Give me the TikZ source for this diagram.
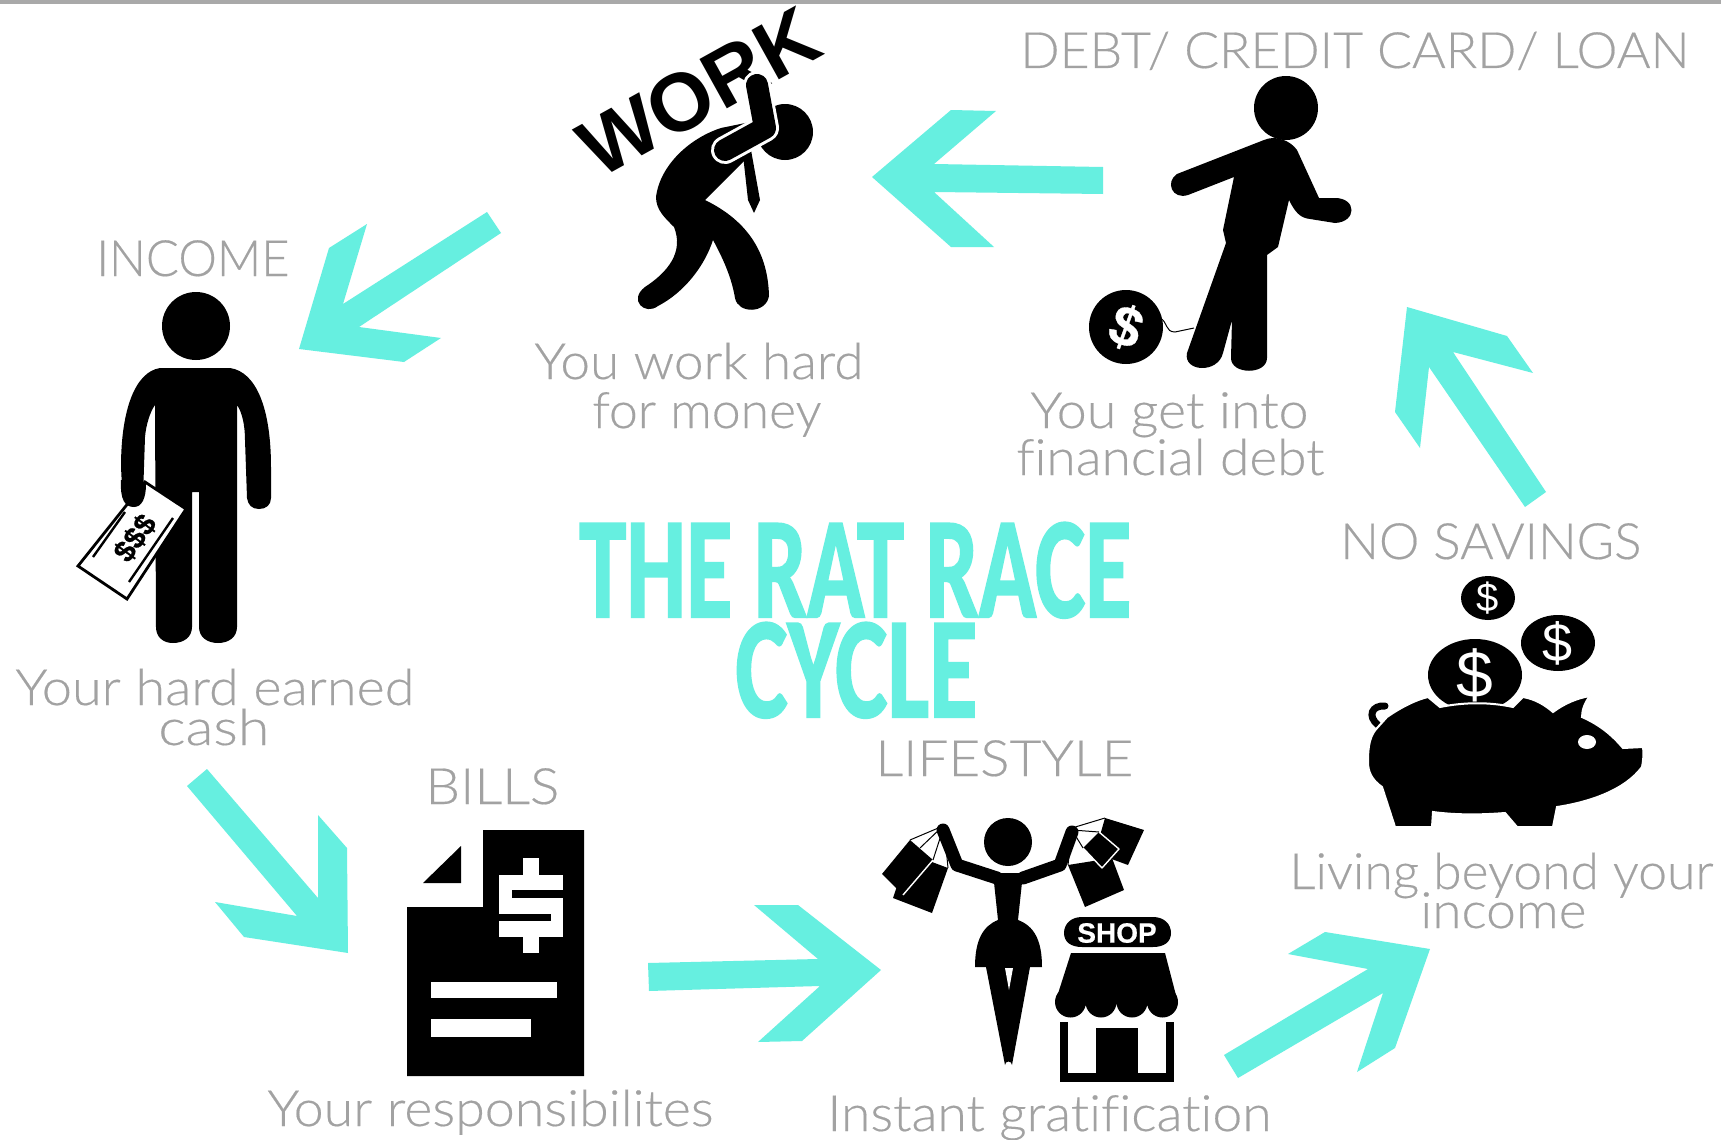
\documentclass[tikz,border=0pt]{standalone}
\usepackage{fontspec}
\usepackage{graphicx}
\setmainfont{Liberation Sans}
\newfontfamily\lightf[FakeBold=0.35,Ligatures=NoCommon]{Lato Light}
\newfontfamily\titlef[FakeBold=1.6]{Carlito}
\newfontfamily\boldf[FakeBold=0.6]{Liberation Sans}
\newlength\pxu \pxu=0.5pt
\definecolor{teal1}{HTML}{66EFE0}
\definecolor{gtext}{HTML}{A2A2A2}
\definecolor{topbar}{HTML}{A9A9A9}
\newcommand{\lab}[2]{\resizebox{#1\pxu}{\height}{\fontsize{25pt}{25pt}\selectfont\lightf #2}}
\newcommand{\ttl}[2]{\resizebox{#1\pxu}{\height}{\fontsize{72pt}{72pt}\selectfont\titlef\bfseries #2}}
\tikzset{
  grey label/.style={anchor=base west,inner sep=0pt,text=gtext},
  title label/.style={anchor=base west,inner sep=0pt,text=teal1},
  block arrow/.style={fill=teal1,draw=none},
  ink/.style={fill=black,draw=none},
  paper/.style={fill=white,draw=none},
  bagedge/.style={draw=white,line width=0.7pt,line join=round},
  handle/.style={draw=black,line width=0.5pt},
}
\begin{document}
\begin{tikzpicture}[x=0.5pt,y=-0.5pt]
\useasboundingbox (0,0) rectangle (1721,1140);
\fill[white] (0,0) rectangle (1721,1140);
\fill[topbar] (0,0) rectangle (1721,4);

% block arrows
\fill[block arrow] (872,177)--(951,110)--(996,111)--(934,164)--(1103,167)--(1103,194)--(934,192)--(994,247)--(951,247)--cycle;
\fill[block arrow] (487,212)--(501,233)--(359,327)--(441,338)--(404,362)--(299,349)--(329,248)--(367,224)--(343,304)--cycle;
\fill[block arrow] (207,769)--(187,786)--(297,916)--(215,902)--(244,937)--(348,953)--(347,848)--(318,815)--(318,898)--cycle;
\fill[block arrow] (648,963)--(818,959)--(754,905)--(798,905)--(881,970)--(802,1041)--(758,1042)--(820,986)--(649,991)--cycle;
\fill[block arrow] (1224,1055)--(1368,969)--(1288,954)--(1325,932)--(1430,949)--(1395,1048)--(1357,1072)--(1383,993)--(1238,1078)--cycle;
\fill[block arrow] (1525,507)--(1546,492)--(1453,352)--(1533,373)--(1507,336)--(1407,307)--(1395,412)--(1420,448)--(1429,367)--cycle;

% title
\node[title label] (t1) at (579,617) {\ttl{552}{THE RAT RACE}};
\node[title label] (t2) at (735,717) {\ttl{242}{CYCLE}};

% labels
\node[grey label] (l1) at (1020,68) {\lab{669}{DEBT/ CREDIT CARD/ LOAN}};
\node[grey label] (l2) at (96,276) {\lab{193}{INCOME}};
\node[grey label] (l3) at (1340,559) {\lab{301}{NO SAVINGS}};
\node[grey label] (l4) at (875,776) {\lab{258}{LIFESTYLE}};
\node[grey label] (l5) at (425,804) {\lab{134}{BILLS}};
\node[grey label] (l6) at (534,379) {\lab{329}{You work hard}};
\node[grey label] (l7) at (592,428) {\lab{229}{for money}};
\node[grey label] (l8) at (1030,428) {\lab{278}{You get into}};
\node[grey label] (l9) at (1016,475) {\lab{308}{financial debt}};
\node[grey label] (l10) at (15,705) {\lab{399}{Your hard earned}};
\node[grey label] (l11) at (158,745) {\lab{111}{cash}};
\node[grey label] (l12) at (1289,889) {\lab{424}{Living beyond your}};
\node[grey label] (l13) at (1420,928) {\lab{166}{income}};
\node[grey label] (l14) at (267,1126) {\lab{446}{Your responsibilites}};
\node[grey label] (l15) at (827,1131) {\lab{444}{Instant gratification}};

% income man
\fill[ink] (196,326) circle[radius=34];
\fill[ink] (160,368) .. controls (135,372) and (121,410) .. (121,467) -- (122,487) -- (133,507) -- (143,497) -- (145,437) .. controls (146,425) and (150,412) .. (155,405) -- (156,627) .. controls (156,637) and (163,643) .. (173,643) .. controls (184,643) and (192,637) .. (192,627) -- (192,492) -- (199,492) -- (199,627) .. controls (199,637) and (207,643) .. (218,643) .. controls (229,643) and (237,637) .. (237,627) -- (237,405) .. controls (242,412) and (245,425) .. (245,440) -- (247,498) .. controls (248,505) and (252,509) .. (259,509) .. controls (266,509) and (271,505) .. (271,498) -- (271,467) .. controls (271,410) and (257,372) .. (230,368) -- cycle;
\draw[fill=white,draw=black,line width=1.4pt] (145,482)--(186,509)--(127,599)--(78,566)--cycle;
\fill[ink] (121,480) .. controls (120,500) and (125,507) .. (134,507) .. controls (142,507) and (146,498) .. (146,484) -- cycle;
\draw[black,line width=1.2pt] (93,557)--(125,512) (129,582)--(173,518);
\node[inner sep=0pt,rotate=54] (bill) at (135,538) {\fontsize{15pt}{15pt}\selectfont\boldf\bfseries\$\$\$};

% work man
\node[inner sep=0pt,rotate=29] (work) at (699,92) {\fontsize{41pt}{41pt}\selectfont\bfseries WORK};
\fill[ink] (785,132) circle[radius=28];
\fill[ink] (721,128) .. controls (690,138) and (660,165) .. (656,197) .. controls (656,210) and (665,218) .. (674,227) .. controls (684,252) and (668,272) .. (645,287) .. controls (628,300) and (645,316) .. (658,306) .. controls (685,292) and (705,265) .. (713,240) .. controls (725,262) and (732,280) .. (735,298) .. controls (738,314) and (766,314) .. (769,296) .. controls (768,255) and (750,222) .. (705,200) -- (748,157) -- (760,120) -- cycle;
\fill[ink] (743,155)--(748,200)--(754,213)--(760,200)--(751,150)--cycle;
\draw[white,line width=14pt,line join=round,line cap=round] (757,85)--(765,128)--(725,150);
\draw[black,line width=11pt,line join=round,line cap=round] (757,85)--(765,128)--(725,150);

% debt man
\fill[ink] (1286,108) circle[radius=32];
\fill[ink] (1264,140) -- (1177,174) .. controls (1165,182) and (1172,200) .. (1188,195) -- (1234,177) -- (1223,230) -- (1226,243) -- (1187,353) .. controls (1183,372) and (1218,374) .. (1223,353) -- (1232,320) -- (1231,358) .. controls (1231,375) and (1267,375) .. (1267,358) -- (1267,255) -- (1278,247) -- (1289,200) .. controls (1295,212) and (1300,218) .. (1310,219) -- (1335,223) .. controls (1357,222) and (1357,198) .. (1335,198) -- (1319,198) -- (1297,150) .. controls (1290,140) and (1275,135) .. (1264,140) -- cycle;
\fill[ink] (1126,327) circle[radius=37];
\draw[black,line width=0.5pt] (1160,318) .. controls (1168,322) and (1165,332) .. (1175,332) -- (1194,328);
\node[inner sep=0pt,text=white,rotate=-20] (ball) at (1126,327) {\fontsize{28pt}{28pt}\selectfont\boldf\bfseries\$};

% bills
\fill[ink] (407,907)--(483,907)--(483,830)--(584,830)--(584,1076)--(407,1076)--cycle;
\fill[ink] (461,846)--(461,883)--(423,883)--cycle;
\fill[paper] (431,982) rectangle (557,998);
\fill[paper] (431,1019) rectangle (531,1037);
\fill[paper] (523,858) rectangle (539,953);
\fill[paper] (499,875) rectangle (563,937);
\fill[ink] (512,890) rectangle (563,898);
\fill[ink] (499,914) rectangle (551,921);

% woman
\fill[ink] (1008,842) circle[radius=24];
\fill[ink] (893,898)--(932,913)--(948,868)--(908,853)--cycle;
\fill[ink] (882,874)--(910,840)--(933,860)--(903,895)--cycle;
\draw[bagedge] (933,860)--(903,895);
\draw[handle] (910,840)--(943,826) (920,848)--(943,826) (933,860)--(944,826) (948,868)--(944,826);
\draw[black,line width=6.5pt,line cap=round,line join=round] (943,830)--(957,865)--(997,878);
\draw[black,line width=6.5pt,line cap=round,line join=round] (1072,832)--(1060,865)--(1023,878);
\fill[ink] (993,873)--(1023,873)--(1018,920)--(998,920)--cycle;
\fill[ink] (998,920) .. controls (983,926) and (975,940) .. (975,967) -- (1042,967) .. controls (1042,940) and (1034,926) .. (1018,920) -- cycle;
\fill[ink] (986,967)--(1005,1065) arc[start angle=180,end angle=360,radius=3.5] --(1030,967)--cycle;
\fill[paper] (1005,968)--(1013,968)--(1009,990)--cycle;
\fill[ink] (1105,818)--(1144,830)--(1128,865)--(1095,853)--cycle;
\fill[ink] (1068,865)--(1112,858)--(1124,890)--(1085,907)--cycle;
\fill[ink] (1099,832)--(1119,849)--(1102,868)--(1083,848)--cycle;
\draw[bagedge] (1099,832)--(1119,849)--(1102,868)--(1083,848);
\draw[handle] (1072,828)--(1105,818) (1072,830)--(1099,832) (1072,830)--(1083,848) (1072,830)--(1068,865);

% shop
\fill[ink] (1082,917) -- (1153,917) .. controls (1164,917) and (1171,924) .. (1171,933) .. controls (1171,942) and (1164,947) .. (1153,947) -- (1082,947) .. controls (1071,947) and (1064,942) .. (1064,933) .. controls (1064,924) and (1071,917) .. (1082,917) -- cycle;
\node[inner sep=0pt,text=white] (shop) at (1117,933) {\fontsize{14pt}{14pt}\selectfont\boldf\bfseries SHOP};
\fill[ink] (1071,953)--(1165,953)--(1178,1003)--(1055,1003)--cycle;
\fill[ink] (1070.5,1002) circle[radius=15.5] (1101,1002) circle[radius=15.5] (1132,1002) circle[radius=15.5] (1162.5,1002) circle[radius=15.5];
\fill[ink] (1060,1022) rectangle (1068,1082);
\fill[ink] (1166,1022) rectangle (1174,1082);
\fill[ink] (1060,1073) rectangle (1174,1082);
\fill[ink] (1096,1028) rectangle (1138,1075);

% piggy bank
\fill[ink] (1488,598) ellipse[x radius=27,y radius=22];
\node[inner sep=0pt,text=white] (c1) at (1488,598) {\fontsize{20pt}{20pt}\selectfont\$};
\fill[ink] (1558,643) ellipse[x radius=37,y radius=28];
\node[inner sep=0pt,text=white] (c2) at (1558,643) {\fontsize{27pt}{27pt}\selectfont\$};
\fill[ink] (1475,675) ellipse[x radius=47,y radius=36];
\node[inner sep=0pt,text=white] (c3) at (1475,675) {\fontsize{33pt}{33pt}\selectfont\$};
\draw[black,line width=3.5pt,line cap=round] (1378,725) .. controls (1367,716) and (1372,705) .. (1385,706);
\draw[fill=black,draw=white,line width=1pt] (1368,762) .. controls (1368,745) and (1370,735) .. (1378,727) -- (1387,717) .. controls (1400,708) and (1415,700) .. (1428,697) -- (1440,707) .. controls (1465,702) and (1490,702) .. (1513,707) -- (1523,697) .. controls (1535,699) and (1545,705) .. (1553,712) .. controls (1565,703) and (1578,698) .. (1590,696) .. controls (1585,702) and (1582,710) .. (1582,717) .. controls (1600,725) and (1612,735) .. (1623,748) -- (1643,747) .. controls (1644,755) and (1643,762) .. (1642,767) .. controls (1625,790) and (1590,802) .. (1557,807) -- (1553,827) -- (1517,827) -- (1505,813) .. controls (1480,815) and (1455,815) .. (1433,812) -- (1432,827) -- (1395,827) -- (1382,787) .. controls (1372,780) and (1368,772) .. (1368,762) -- cycle;
\fill[paper] (1587,742) ellipse[x radius=9,y radius=7];
\end{tikzpicture}
\end{document}
